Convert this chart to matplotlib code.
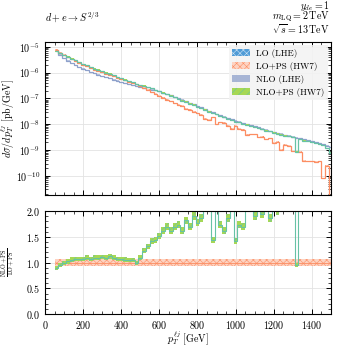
import numpy as np
import matplotlib
matplotlib.use("Agg")
import matplotlib.pyplot as plt
from matplotlib.patches import Patch
from matplotlib.ticker import MultipleLocator, LogLocator, NullFormatter

# ---------------- data ----------------
# bin edges in GeV (20 GeV bins; last bin 1490-1510 is empty for LO+PS)
bin_edges = np.arange(50, 1511, 20)

# log10 of dsigma/dpT [pb/GeV], one value per bin
lo_ps_log10 = [
    -5.12, -5.22, -5.32, -5.40, -5.48, -5.55, -5.63, -5.70, -5.76, -5.82,
    -5.88, -5.93, -5.99, -6.04, -6.09, -6.14, -6.20, -6.25, -6.30, -6.35,
    -6.40, -6.45, -6.52, -6.60, -6.68, -6.76, -6.83, -6.90, -6.99, -7.06,
    -7.11, -7.19, -7.26, -7.30, -7.39, -7.44, -7.53, -7.58, -7.65, -7.80,
    -7.84, -7.73, -8.00, -7.93, -7.94, -8.07, -8.18, -8.06, -8.17, -8.22,
    -8.40, -8.39, -8.39, -8.51, -8.48, -8.59, -8.55, -8.71, -8.67, -8.98,
    -8.81, -8.83, -9.05, -9.05, -9.06, -9.42, -9.44, -9.44, -9.46, -9.44,
    -10.10, -9.62, -14.0,
]
nlo_ps_log10 = [
    -5.17, -5.24, -5.32, -5.39, -5.455, -5.52, -5.60, -5.67, -5.72, -5.79,
    -5.84, -5.89, -5.945, -6.00, -6.04, -6.10, -6.17, -6.22, -6.275, -6.33,
    -6.38, -6.455, -6.48, -6.51, -6.56, -6.61, -6.67, -6.72, -6.78, -6.83,
    -6.90, -6.96, -7.02, -7.09, -7.13, -7.21, -7.25, -7.33, -7.38, -7.44,
    -7.51, -7.57, -7.62, -7.69, -7.73, -7.80, -7.84, -7.91, -7.93, -7.99,
    -8.02, -8.07, -8.11, -8.15, -8.19, -8.25, -8.28, -8.33, -8.37, -8.40,
    -8.45, -8.47, -8.51, -9.07, -8.58, -8.63, -8.65, -8.69, -8.73, -8.77,
    -8.81, -8.92, -9.10,
]
nlo_lhe_log10 = [
    -5.14, -5.30, -5.43, -5.53, -5.62, -5.70, -5.78, -5.85, -5.91, -5.97,
    -6.03, -6.08, -6.13, -6.18, -6.22, -6.27, -6.31, -6.36, -6.40, -6.44,
    -6.48, -6.52, -6.56, -6.60, -6.63, -6.66, -6.69, -6.72, -6.77, -6.83,
    -6.88, -6.94, -6.99, -7.05, -7.11, -7.17, -7.23, -7.29, -7.35, -7.42,
    -7.48, -7.54, -7.60, -7.65, -7.70, -7.76, -7.81, -7.86, -7.90, -7.95,
    -7.99, -8.04, -8.08, -8.12, -8.17, -8.21, -8.26, -8.30, -8.34, -8.37,
    -8.41, -8.44, -8.48, -8.52, -8.55, -8.59, -8.62, -8.66, -8.70, -8.74,
    -8.78, -8.83, -8.88,
]
# relative uncertainty bands
lo_ps_rel_unc = 0.07
nlo_ps_rel_unc = 0.04

series_labels = ["LO (LHE)", "LO+PS (HW7)", "NLO (LHE)", "NLO+PS (HW7)"]
x_ticks = [0, 200, 400, 600, 800, 1000, 1200, 1400]

# ---------------- style ----------------
plt.rcParams.update({
    "font.family": "serif",
    "font.serif": ["cmr10"],
    "mathtext.fontset": "cm",
    "axes.formatter.use_mathtext": True,
    "font.size": 7.2,
    "hatch.linewidth": 0.4,
    "axes.linewidth": 0.8,
})

c_lo_lhe_face, c_lo_lhe_edge = "#4f9bd6", "#cfe4f5"
c_lops = "#fc8d62"
c_lops_face = "#fdd3c2"
c_nlo = "#8da0cb"
c_nlops = "#66c2a5"
c_nlops_face = "#a6d854"

lo_ps = 10.0 ** np.array(lo_ps_log10)
nlo_ps = 10.0 ** np.array(nlo_ps_log10)
nlo_lhe = 10.0 ** np.array(nlo_lhe_log10)

fig = plt.figure(figsize=(3.49, 3.49), dpi=100)
ax1 = fig.add_axes([0.129, 0.441, 0.819, 0.439])
ax2 = fig.add_axes([0.129, 0.100, 0.819, 0.295])

# ---------------- main panel ----------------
ax1.set_yscale("log")
ax1.stairs(nlo_lhe * 1.03, bin_edges, baseline=nlo_lhe * 0.97, fill=True,
           color=c_nlo, alpha=0.6, lw=0)
ax1.stairs(nlo_lhe, bin_edges, baseline=None, color=c_nlo, lw=0.9)
ax1.stairs(lo_ps * (1 + lo_ps_rel_unc), bin_edges, baseline=lo_ps * (1 - lo_ps_rel_unc),
           fill=True, facecolor=c_lops_face, edgecolor=c_lops, hatch="xxxxx", lw=0)
ax1.stairs(lo_ps, bin_edges, baseline=None, color=c_lops, lw=0.9)
ax1.stairs(nlo_ps * (1 + nlo_ps_rel_unc), bin_edges, baseline=nlo_ps * (1 - nlo_ps_rel_unc),
           fill=True, facecolor=c_nlops_face, edgecolor=c_nlops, hatch="////", lw=0)
ax1.stairs(nlo_ps, bin_edges, baseline=None, color=c_nlops, lw=0.9)

ax1.set_xlim(0, 1500)
ax1.set_ylim(1.8e-11, 1.56e-5)
ax1.xaxis.set_major_locator(MultipleLocator(200))
ax1.xaxis.set_minor_locator(MultipleLocator(50))
ax1.yaxis.set_major_locator(LogLocator(base=10, numticks=20))
ax1.yaxis.set_minor_locator(LogLocator(base=10, subs=np.arange(2, 10), numticks=20))
ax1.yaxis.set_minor_formatter(NullFormatter())
ax1.tick_params(which="both", direction="in", top=True, right=True, labelbottom=False)
ax1.tick_params(which="major", length=3.5, width=0.7)
ax1.tick_params(which="minor", length=2, width=0.5)
ax1.grid(True, which="major", color="#e3e3e3", lw=0.6)
ax1.set_axisbelow(True)
ax1.set_ylabel(r"$d\sigma/dp_T^{\ell j}$ [pb/GeV]")
ax1.yaxis.set_label_coords(-0.097, 0.5)

handles = [
    Patch(facecolor=c_lo_lhe_face, edgecolor=c_lo_lhe_edge, hatch="xxxxx", lw=0),
    Patch(facecolor=c_lops_face, edgecolor=c_lops, hatch="xxxxx", lw=0),
    Patch(facecolor=c_nlo, edgecolor=c_nlo, alpha=0.75, lw=0),
    Patch(facecolor=c_nlops_face, edgecolor=c_nlops, hatch="////", lw=0),
]
leg = ax1.legend(handles, series_labels, loc="upper right", fontsize=6.5,
                 frameon=True, fancybox=False, framealpha=0.85,
                 facecolor="#f3f3f3", edgecolor="none", borderaxespad=0.35,
                 handlelength=2.0, handleheight=0.8, labelspacing=0.45,
                 borderpad=0.4, handletextpad=0.6)

# ---------------- ratio panel ----------------
ratio_lo = lo_ps / lo_ps
ratio_nlo = nlo_ps / lo_ps
ax2.stairs(ratio_lo * (1 + lo_ps_rel_unc), bin_edges, baseline=ratio_lo * (1 - lo_ps_rel_unc),
           fill=True, facecolor=c_lops_face, edgecolor=c_lops, hatch="xxxxx", lw=0)
ax2.stairs(ratio_lo, bin_edges, baseline=None, color=c_lops, lw=0.6)
ax2.stairs(ratio_nlo * (1 + nlo_ps_rel_unc), bin_edges, baseline=ratio_nlo * (1 - nlo_ps_rel_unc),
           fill=True, facecolor=c_nlops_face, edgecolor=c_nlops, hatch="////", lw=0)
ax2.stairs(ratio_nlo, bin_edges, baseline=None, color=c_nlops, lw=0.8)

ax2.set_xlim(0, 1500)
ax2.set_ylim(0, 2.0)
ax2.set_xticks(x_ticks)
ax2.xaxis.set_minor_locator(MultipleLocator(50))
ax2.yaxis.set_major_locator(MultipleLocator(0.5))
ax2.yaxis.set_minor_locator(MultipleLocator(0.1))
ax2.tick_params(which="both", direction="in", top=True, right=True)
ax2.tick_params(which="major", length=3.5, width=0.7)
ax2.tick_params(which="minor", length=2, width=0.5)
ax2.grid(True, which="major", color="#e3e3e3", lw=0.6)
ax2.set_axisbelow(True)
ax2.set_xlabel(r"$p_T^{\ell j}$ [GeV]")
ax2.xaxis.set_label_coords(0.5, -0.145)
ax2.set_ylabel(r"$\frac{\mathrm{NLO+PS}}{\mathrm{LO+PS}}$", fontsize=6.2)
ax2.yaxis.set_label_coords(-0.097, 0.5)

# ---------------- header texts ----------------
fig.text(45 / 349, 1 - 21 / 349, r"$d + e \to S^{2/3}$", ha="left", va="baseline")
fig.text(330 / 349, 1 - 8.8 / 349, r"$y_{de} = 1$", ha="right", va="baseline")
fig.text(330 / 349, 1 - 19.5 / 349, r"$m_{\mathrm{LQ}} = 2\,\mathrm{TeV}$", ha="right", va="baseline")
fig.text(330 / 349, 1 - 34 / 349, r"$\sqrt{s} = 13\,\mathrm{TeV}$", ha="right", va="baseline")

fig.savefig("out.png", dpi=100)
